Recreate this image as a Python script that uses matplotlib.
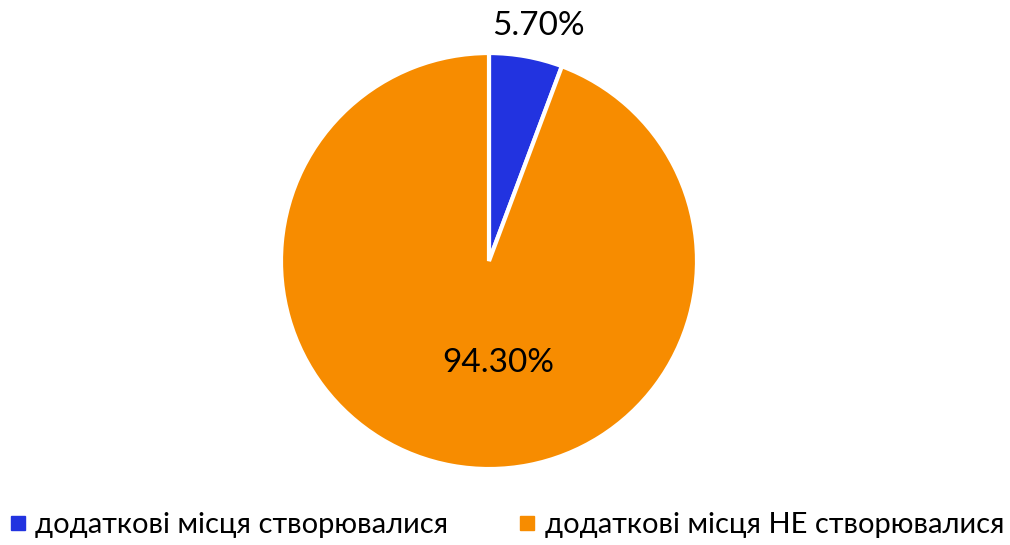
import matplotlib.pyplot as plt
from matplotlib.lines import Line2D

labels = ["додаткові місця створювалися", "додаткові місця НЕ створювалися"]
values = [5.70, 94.30]
colors = ["#2233E0", "#F78C00"]

plt.rcParams["font.family"] = ["Lato", "DejaVu Sans"]

fig = plt.figure(figsize=(10.10, 5.45), dpi=100)
ax = fig.add_axes([0.2772, 0.1394, 0.4139, 0.7633])
wedges, texts, autotexts = ax.pie(
    values, colors=colors, startangle=90, counterclock=False,
    autopct=lambda p: f"{p:.2f}%", pctdistance=0.5,
    wedgeprops=dict(edgecolor="white", linewidth=3),
    textprops=dict(fontsize=24, color="black"),
)
# label placement as in the original
autotexts[0].set_position((0.237, 1.13))
autotexts[1].set_position((0.043, -0.49))
ax.set_xlim(-1, 1)
ax.set_ylim(-1, 1)
ax.set_aspect("equal")

handles = [Line2D([], [], marker="s", linestyle="none", markersize=10,
                  markerfacecolor=c, markeredgecolor=c) for c in colors]
fig.legend(handles, labels, loc="lower center", bbox_to_anchor=(0.5, -0.035),
           ncol=2, frameon=False, fontsize=21, handletextpad=0.2,
           columnspacing=2.3, handlelength=0.8)

fig.savefig("out.png", dpi=100)
